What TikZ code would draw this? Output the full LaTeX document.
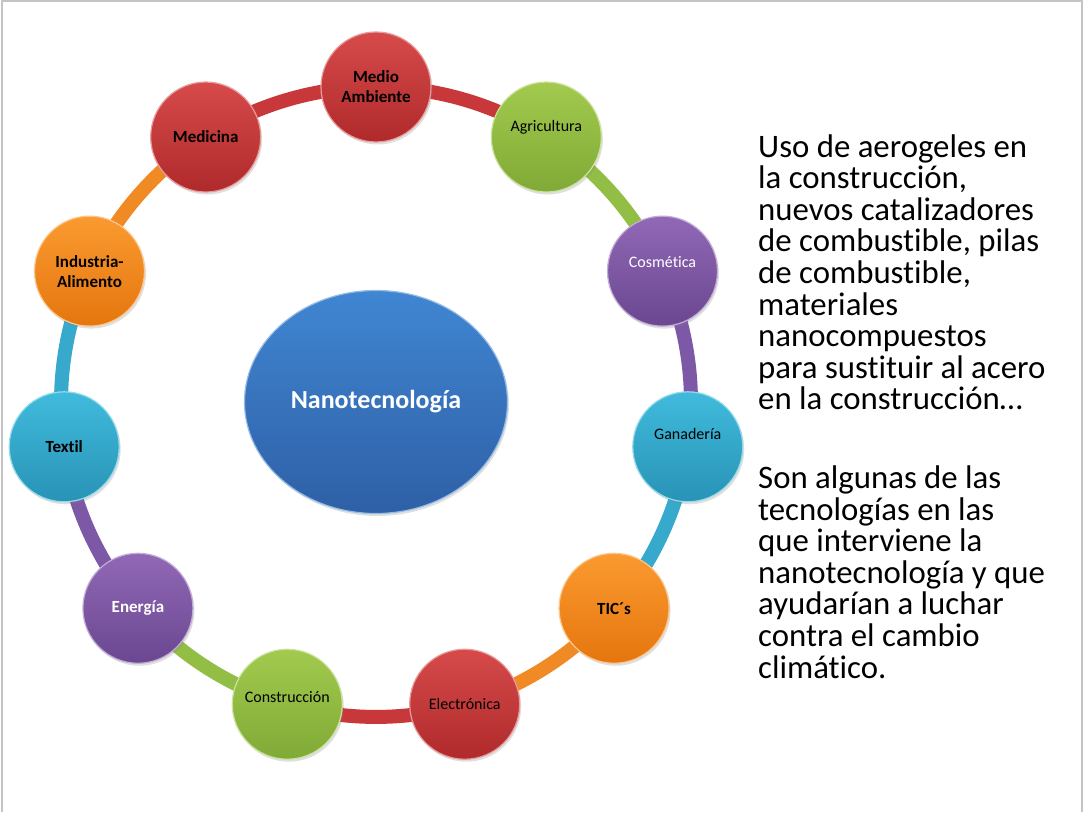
\documentclass[tikz,border=0pt]{standalone}
\usepackage{fontspec}
\setmainfont{Carlito}[Ligatures=NoCommon]
\usetikzlibrary{backgrounds,shadows,shapes.geometric}
\definecolor{cRt}{HTML}{D64A4A}\definecolor{cRb}{HTML}{B02A2B}\definecolor{cRr}{HTML}{C8383A}
\definecolor{cGt}{HTML}{A2CA4E}\definecolor{cGb}{HTML}{80AA36}\definecolor{cGr}{HTML}{93BE45}
\definecolor{cPt}{HTML}{9168B6}\definecolor{cPb}{HTML}{6A4790}\definecolor{cPr}{HTML}{7D58A6}
\definecolor{cTt}{HTML}{40BBDC}\definecolor{cTb}{HTML}{2893B6}\definecolor{cTr}{HTML}{36A9CC}
\definecolor{cOt}{HTML}{FA9A30}\definecolor{cOb}{HTML}{E5760E}\definecolor{cOr}{HTML}{F08A25}
\definecolor{cBt}{HTML}{4086D2}\definecolor{cBb}{HTML}{2E60A6}
\definecolor{frameg}{HTML}{C4C4C4}
\tikzset{
  ball/.style={circle, minimum size=110pt, inner sep=0pt, align=center,
    font=\fontsize{16}{20}\selectfont, top color=#1t, bottom color=#1b,
    draw=#1t!55!white, line width=1.2pt,
    drop shadow={opacity=0.25, shadow xshift=1.5pt, shadow yshift=-2.5pt}},
  bold/.style={font=\fontsize{17}{20}\selectfont\bfseries},
  lift/.style={text depth=#1},
  ring/.style={line width=14pt, draw=#1},
  arcbend/.style={bend left=16.36, looseness=0.869},
  core/.style={ellipse, minimum width=263pt, minimum height=223pt, inner sep=0pt,
    top color=cBt, bottom color=cBb, draw=cBt!55!white, line width=1.2pt,
    text=white, font=\fontsize{26}{30}\selectfont\bfseries,
    drop shadow={opacity=0.25, shadow xshift=1.5pt, shadow yshift=-2.5pt}},
  desc/.style={align=left, inner sep=0pt, font=\fontsize{32.8}{31.6}\selectfont},
  frame/.style={draw=frameg, line width=1.6pt}
}
\begin{document}
\begin{tikzpicture}[x=1pt,y=1pt]
\useasboundingbox (0,0) rectangle (1084,812);
\draw[frame] (2,0) -- (2,811) -- (1082,811) -- (1082,0);
\begin{scope}[shift={(376,410)}]
\node[core] (nano) at (0,0) {Nanotecnología};
\node[ball=cR, bold] (medio) at (90:315pt) {Medio\\Ambiente};
\node[ball=cG, lift=23pt] (agri) at (57.27:315pt) {Agricultura};
\node[ball=cP, text=white, lift=19pt] (cosm) at (24.55:315pt) {Cosmética};
\node[ball=cT, lift=25pt] (gan) at (-8.18:315pt) {Ganadería};
\node[ball=cO, bold] (tic) at (-40.91:315pt) {TIC´s};
\node[ball=cR] (elec) at (-73.64:315pt) {Electrónica};
\node[ball=cG, lift=15pt] (cons) at (-106.36:315pt) {Construcción};
\node[ball=cP, bold, text=white] (ener) at (-139.09:315pt) {Energía};
\node[ball=cT, bold] (textil) at (-171.82:315pt) {Textil};
\node[ball=cO, bold] (indu) at (155.45:315pt) {Industria-\\Alimento};
\node[ball=cR, bold] (medi) at (122.73:315pt) {Medicina};
\end{scope}
\begin{scope}[on background layer]
\draw[ring=cRr] (medio.center) to[arcbend] (agri.center);
\draw[ring=cGr] (agri.center) to[arcbend] (cosm.center);
\draw[ring=cPr] (cosm.center) to[arcbend] (gan.center);
\draw[ring=cTr] (gan.center) to[arcbend] (tic.center);
\draw[ring=cOr] (tic.center) to[arcbend] (elec.center);
\draw[ring=cRr] (elec.center) to[arcbend] (cons.center);
\draw[ring=cGr] (cons.center) to[arcbend] (ener.center);
\draw[ring=cPr] (ener.center) to[arcbend] (textil.center);
\draw[ring=cTr] (textil.center) to[arcbend] (indu.center);
\draw[ring=cOr] (indu.center) to[arcbend] (medi.center);
\draw[ring=cRr] (medi.center) to[arcbend] (medio.center);
\end{scope}
\node[desc, anchor=base west] (p1) at (758,402) {Uso de aerogeles en\\la construcción,\\nuevos catalizadores\\de combustible, pilas\\de combustible,\\materiales\\nanocompuestos\\para sustituir al acero\\en la construcción…};
\node[desc, anchor=base west] (p2) at (758,134) {Son algunas de las\\tecnologías en las\\que interviene la\\nanotecnología y que\\ayudarían a luchar\\contra el cambio\\climático.};
\end{tikzpicture}
\end{document}
